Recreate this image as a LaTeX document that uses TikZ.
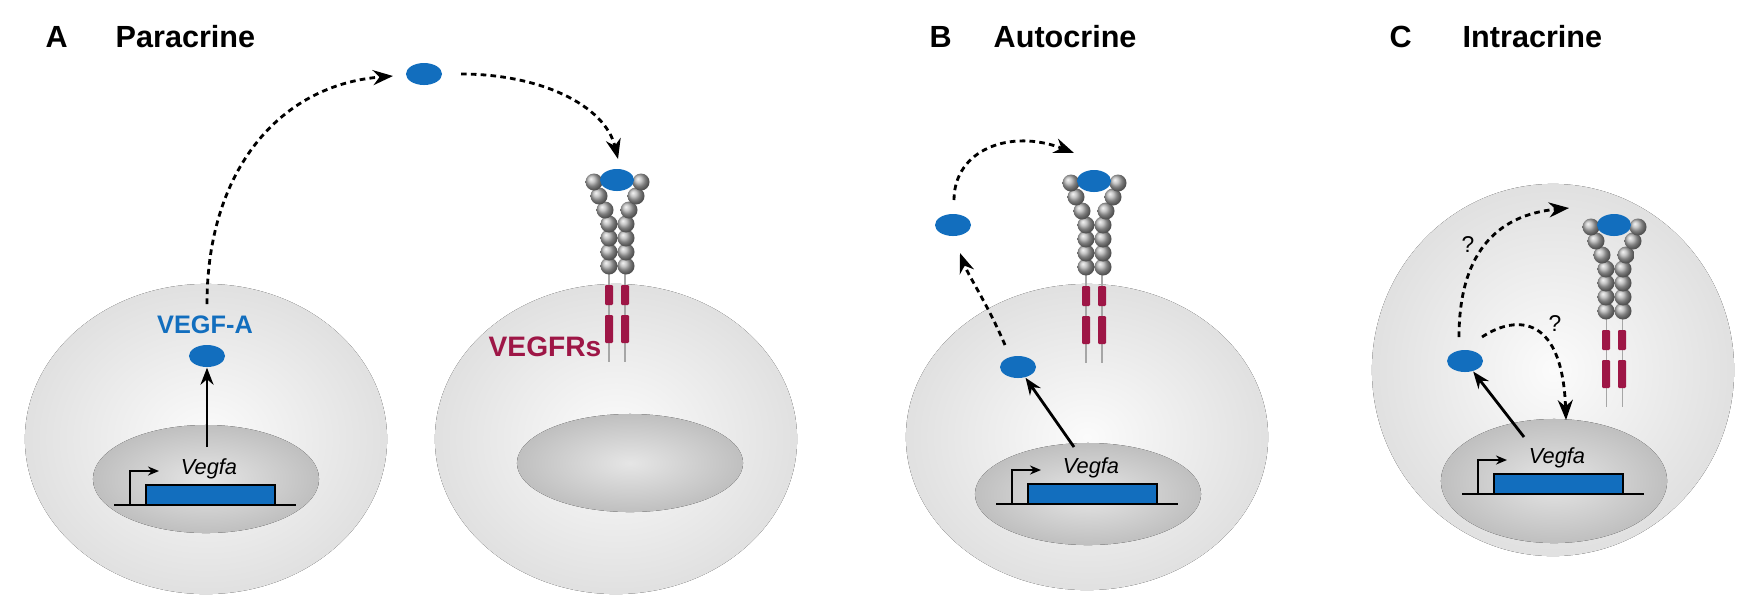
\documentclass[tikz,border=0pt]{standalone}
\usepackage{fontspec}
\setmainfont{Liberation Sans}
\usetikzlibrary{shapes.geometric,arrows.meta}
\definecolor{vblue}{RGB}{18,110,190}
\definecolor{vred}{RGB}{158,22,70}
\tikzset{
  lig/.style={ellipse, fill=vblue, minimum width=0.36cm, minimum height=0.22cm, inner sep=0pt},
  ball/.style={circle, shading=ball, ball color=gray!60, minimum size=0.17cm, inner sep=0pt},
  cell/.style={inner color=gray!3, outer color=gray!24},
  nuc/.style={inner color=gray!20, outer color=gray!50},
  dashar/.style={line width=0.8pt, dash pattern=on 1.6pt off 1.2pt, -{Stealth[length=0.2cm,width=0.15cm]}},
  solar/.style={line width=0.8pt, -{Stealth[length=0.17cm,width=0.13cm]}},
  title/.style={font=\fontsize{8.7}{10}\selectfont\bfseries, anchor=west, inner sep=0pt},
  gtext/.style={font=\fontsize{6.2}{7}\selectfont\itshape, inner sep=0pt},
  q/.style={font=\fontsize{6.5}{7}\selectfont, inner sep=0pt},
  bar/.style={fill=vred, rounded corners=0.3pt},
  receptor/.pic={
    \draw[gray!70, line width=0.3pt] (-8,86) -- (-8,182) (8,86) -- (8,182);
    \fill[bar] (-12,105) rectangle (-4,125);
    \fill[bar] (4,105) rectangle (12,125);
    \fill[bar] (-12,135) rectangle (-4,163);
    \fill[bar] (4,135) rectangle (12,163);
    \foreach \y in {86,72,58,44} {
      \node[ball] (-l\y) at (-8,\y) {};
      \node[ball] (-r\y) at (9,\y) {};
    }
    \node[ball] (-l30) at (-12,30) {};
    \node[ball] (-r30) at (12,30) {};
    \node[ball] (-l16) at (-18,16) {};
    \node[ball] (-r16) at (19,16) {};
    \node[ball] (-l2) at (-23,2) {};
    \node[ball] (-r2) at (24,2) {};
    \node[lig, minimum width=0.34cm] (-lig) at (0,0) {};
  },
  gene/.pic={
    \draw[line width=0.7pt] (-91,0) -- (91,0);
    \draw[line width=0.7pt, -{Stealth[length=0.11cm,width=0.09cm]}] (-75,0) -- (-75,-34) -- (-46,-34);
    \filldraw[fill=vblue, draw=black, line width=0.7pt] (-59,0) rectangle (70,-20);
    \node[gtext] (-txt) at (4,-36) {Vegfa};
  }
}
\begin{document}
\begin{tikzpicture}[x=0.01cm, y=-0.01cm]
\useasboundingbox (0,0) rectangle (1749,611);
% cells
\fill[cell] (206,439) ellipse [x radius=1.81cm, y radius=1.55cm];
\fill[cell] (616,439) ellipse [x radius=1.81cm, y radius=1.55cm];
\fill[cell] (1087,437) ellipse [x radius=1.81cm, y radius=1.53cm];
\fill[cell] (1553,370) ellipse [x radius=1.81cm, y radius=1.86cm];
% nuclei
\fill[nuc] (206,479) ellipse [x radius=1.13cm, y radius=0.54cm];
\fill[nuc] (630,463) ellipse [x radius=1.13cm, y radius=0.49cm];
\fill[nuc] (1088,494) ellipse [x radius=1.13cm, y radius=0.51cm];
\fill[nuc] (1554,481) ellipse [x radius=1.13cm, y radius=0.62cm];
% titles
\node[title] (tA) at (45,37) {A};
\node[title] (nA) at (115,37) {Paracrine};
\node[title] (tB) at (929,37) {B};
\node[title] (nB) at (993,37) {Autocrine};
\node[title] (tC) at (1389,37) {C};
\node[title] (nC) at (1462,37) {Intracrine};
% genes
\pic (gA) at (205,505) {gene};
\pic (gB) at (1087,504) {gene};
\pic (gC) at (1553,494) {gene};
% receptors
\pic (rA) at (617,180) {receptor};
\pic (rB) at (1094,181) {receptor};
\pic (rC) at (1614,225) {receptor};
\node[font=\fontsize{8}{9}\selectfont\bfseries, text=vred, inner sep=0pt] (vegfr) at (545,347) {VEGFRs};
% panel A
\node[lig] (la1) at (207,356) {};
\node[font=\fontsize{7.2}{8}\selectfont\bfseries, text=vblue, inner sep=0pt] (vegfa) at (205,325) {VEGF-A};
\node[lig] (la2) at (424,74) {};
\coordinate (aS) at (207,447);
\coordinate (aD) at (207,304);
\coordinate (aT) at (393,76);
\coordinate (aE) at (461,74);
\coordinate (aR) at (618,159);
\draw[solar] (aS) -- (la1);
\draw[dashar] (aD) .. controls (207,170) and (280,85) .. (aT);
\draw[dashar] (aE) .. controls (540,74) and (605,105) .. (aR);
% panel B
\node[lig] (lb1) at (1018,367) {};
\node[lig] (lb2) at (953,225) {};
\coordinate (bS) at (1074,447);
\coordinate (bD) at (1005,345);
\coordinate (bT) at (960,253);
\coordinate (bE) at (954,200);
\coordinate (bR) at (1074,153);
\draw[solar] (bS) -- (lb1);
\draw[dashar] (bD) .. controls (988,305) and (968,275) .. (bT);
\draw[dashar] (bE) .. controls (954,150) and (1010,128) .. (bR);
% panel C
\node[lig] (lc1) at (1465,361) {};
\coordinate (cS) at (1524,437);
\coordinate (cD) at (1459,337);
\coordinate (cT) at (1569,208);
\coordinate (cE) at (1482,337);
\coordinate (cN) at (1566,420);
\draw[solar] (cS) -- (lc1);
\draw[dashar] (cD) .. controls (1459,255) and (1495,215) .. (cT);
\draw[dashar] (cE) .. controls (1510,318) and (1562,308) .. (cN);
\node[q] (q1) at (1468,245) {?};
\node[q] (q2) at (1555,324) {?};
\end{tikzpicture}
\end{document}
